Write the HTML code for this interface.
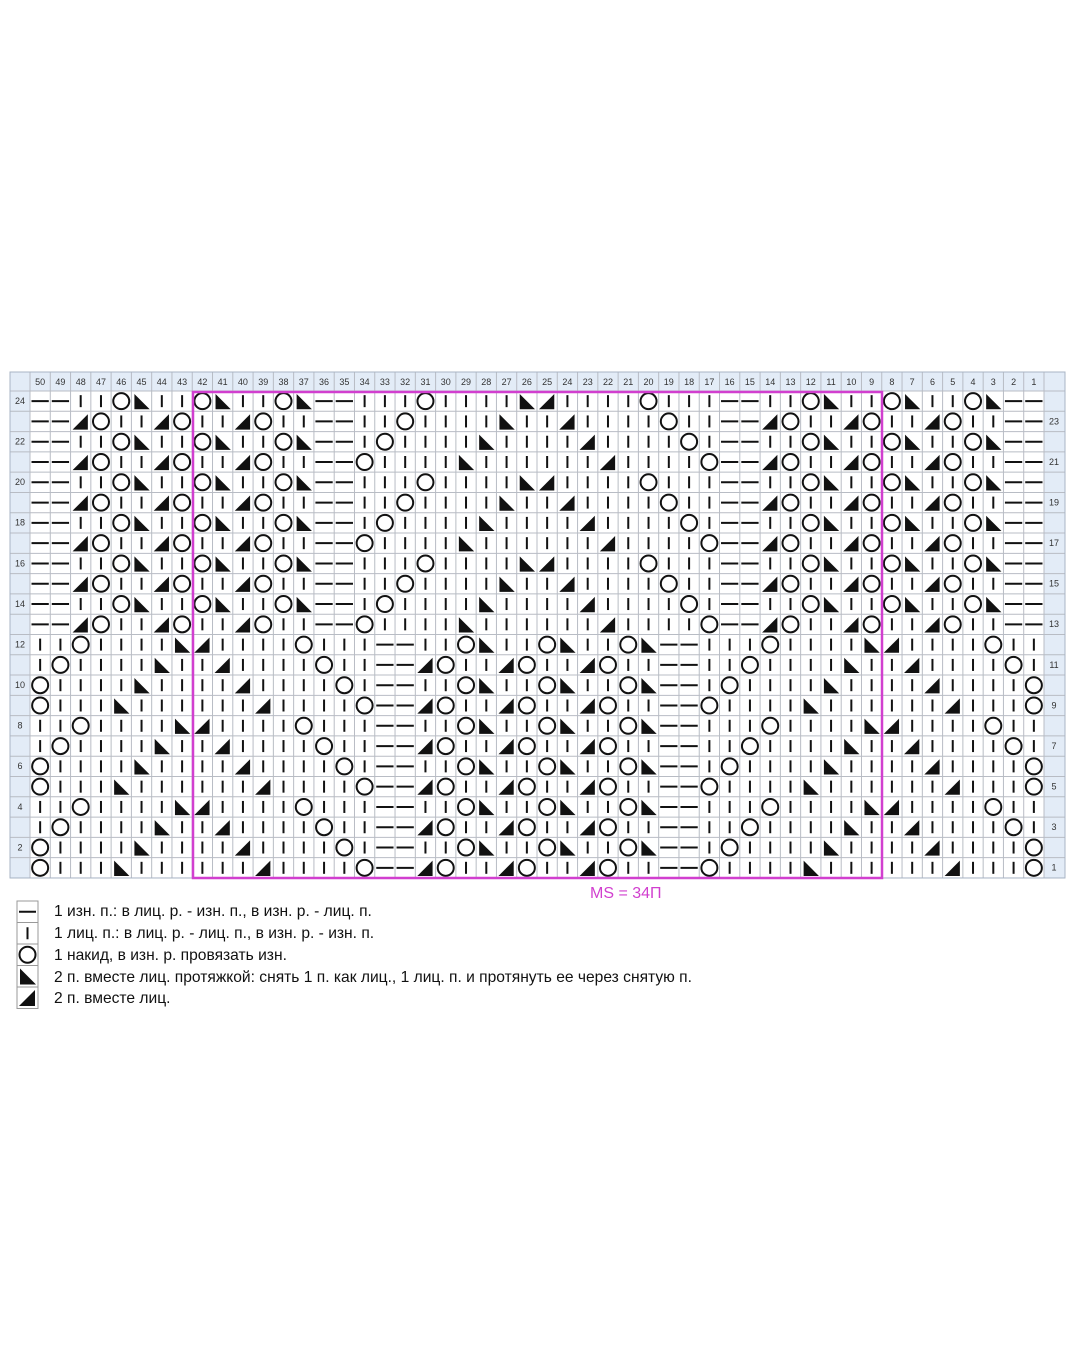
<!DOCTYPE html>
<html><head><meta charset="utf-8">
<style>
html,body{margin:0;padding:0;background:#fff;}
body{width:1077px;height:1346px;position:relative;overflow:hidden;font-family:"Liberation Sans",sans-serif;}
svg{position:absolute;left:0;top:0;}
.lg{position:absolute;left:54px;font-size:15.6px;color:#111;line-height:17px;white-space:nowrap;}
</style></head><body>
<svg id="s" width="1077" height="1346" xmlns="http://www.w3.org/2000/svg"></svg>
<div class="lg" style="top:903px">1 изн. п.: в лиц. р. - изн. п., в изн. р. - лиц. п.</div>
<div class="lg" style="top:925px">1 лиц. п.: в лиц. р. - лиц. п., в изн. р. - изн. п.</div>
<div class="lg" style="top:947px">1 накид, в изн. р. провязать изн.</div>
<div class="lg" style="top:969px">2 п. вместе лиц. протяжкой: снять 1 п. как лиц., 1 лиц. п. и протянуть ее через снятую п.</div>
<div class="lg" style="top:990px">2 п. вместе лиц.</div>
<script>
var T={
24:"--||OS||OS||OS--|||O||||SK||||O|||--||OS||OS||OS--",
23:"--KO||KO||KO||--||O||||S||K||||O||--KO||KO||KO||--",
22:"--||OS||OS||OS--|O||||S||||K||||O|--||OS||OS||OS--",
21:"--KO||KO||KO||--O||||S||||||K||||O--KO||KO||KO||--",
12:"||O||||SK||||O|||--||OS||OS||OS--|||O||||SK||||O||",
11:"|O||||S||K||||O||--KO||KO||KO||--||O||||S||K||||O|",
10:"O||||S||||K||||O|--||OS||OS||OS--|O||||S||||K||||O",
9:"O|||S||||||K||||O--KO||KO||KO||--O||||S||||||K|||O"};
function rowStr(r){if(r>=13){return T[21+((r-21)%4+4)%4];}return T[9+((r-9)%4+4)%4];}
var s='',X0=30,Y0=391,W=20.28,H=20.29,L=10,R=1065,HT=372;
s+='<rect x="'+L+'" y="'+HT+'" width="'+(R-L)+'" height="'+(Y0-HT)+'" fill="#e3ecf7"/>';
s+='<rect x="'+L+'" y="'+Y0+'" width="'+(X0-L)+'" height="'+(24*H)+'" fill="#e3ecf7"/>';
s+='<rect x="'+(X0+50*W)+'" y="'+Y0+'" width="'+(R-X0-50*W)+'" height="'+(24*H)+'" fill="#e3ecf7"/>';
var B=Y0+24*H;
for(var i=0;i<=50;i++){var x=X0+i*W;s+='<line x1="'+x+'" y1="'+HT+'" x2="'+x+'" y2="'+B+'" stroke="#b8bcc4" stroke-width="1"/>';}
for(var j=0;j<=24;j++){var y=Y0+j*H;s+='<line x1="'+L+'" y1="'+y+'" x2="'+R+'" y2="'+y+'" stroke="#b8bcc4" stroke-width="1"/>';}
s+='<rect x="'+L+'" y="'+HT+'" width="'+(R-L)+'" height="'+(B-HT)+'" fill="none" stroke="#a8b4c4"/>';
for(var c=0;c<50;c++){s+='<text x="'+(X0+c*W+W/2)+'" y="'+(HT+13)+'" font-size="9" text-anchor="middle" fill="#333" font-family="Liberation Sans,sans-serif">'+(50-c)+'</text>';}
for(var r=24;r>=1;r--){var j=24-r,y=Y0+j*H;
 if(r%2==0)s+='<text x="20" y="'+(y+13)+'" font-size="9" text-anchor="middle" fill="#333" font-family="Liberation Sans,sans-serif">'+r+'</text>';
 else s+='<text x="1054" y="'+(y+13)+'" font-size="9" text-anchor="middle" fill="#333" font-family="Liberation Sans,sans-serif">'+r+'</text>';
 var st=rowStr(r);
 for(var c=0;c<50;c++){var ch=st[c],x=X0+c*W,cx=x+W/2,cy=y+H/2;
  if(ch=='|')s+='<line x1="'+cx+'" y1="'+(cy-6)+'" x2="'+cx+'" y2="'+(cy+6)+'" stroke="#111" stroke-width="2"/>';
  else if(ch=='-')s+='<line x1="'+(x+1.5)+'" y1="'+cy+'" x2="'+(x+W-1.5)+'" y2="'+cy+'" stroke="#111" stroke-width="2"/>';
  else if(ch=='O')s+='<circle cx="'+cx+'" cy="'+cy+'" r="8" fill="none" stroke="#111" stroke-width="2"/>';
  else if(ch=='S')s+='<polygon points="'+(x+3)+','+(y+3)+' '+(x+3)+','+(y+H-2)+' '+(x+W-2)+','+(y+H-2)+'" fill="#111"/>';
  else if(ch=='K')s+='<polygon points="'+(x+W-3)+','+(y+3)+' '+(x+W-3)+','+(y+H-2)+' '+(x+2)+','+(y+H-2)+'" fill="#111"/>';
 }}
s+='<rect x="193" y="392" width="689" height="486" fill="none" stroke="#d13fcf" stroke-width="2.5"/>';
s+='<text x="590" y="898" font-size="16" fill="#d13fcf" font-family="Liberation Sans,sans-serif">MS = 34П</text>';
var ly=[901,922.5,944,965.5,987];
for(var k=0;k<5;k++){var y=ly[k];s+='<rect x="17" y="'+y+'" width="21" height="21.5" fill="#fff" stroke="#999"/>';
 var cx=27.5,cy=y+10.75;
 if(k==0)s+='<line x1="19" y1="'+cy+'" x2="36" y2="'+cy+'" stroke="#111" stroke-width="2"/>';
 if(k==1)s+='<line x1="'+cx+'" y1="'+(cy-6)+'" x2="'+cx+'" y2="'+(cy+6)+'" stroke="#111" stroke-width="2"/>';
 if(k==2)s+='<circle cx="'+cx+'" cy="'+cy+'" r="8" fill="none" stroke="#111" stroke-width="2"/>';
 if(k==3)s+='<polygon points="20,'+(y+3)+' 20,'+(y+19)+' 36,'+(y+19)+'" fill="#111"/>';
 if(k==4)s+='<polygon points="35,'+(y+3)+' 35,'+(y+19)+' 19,'+(y+19)+'" fill="#111"/>';
}
document.getElementById('s').innerHTML=s;
</script>
</body></html>
